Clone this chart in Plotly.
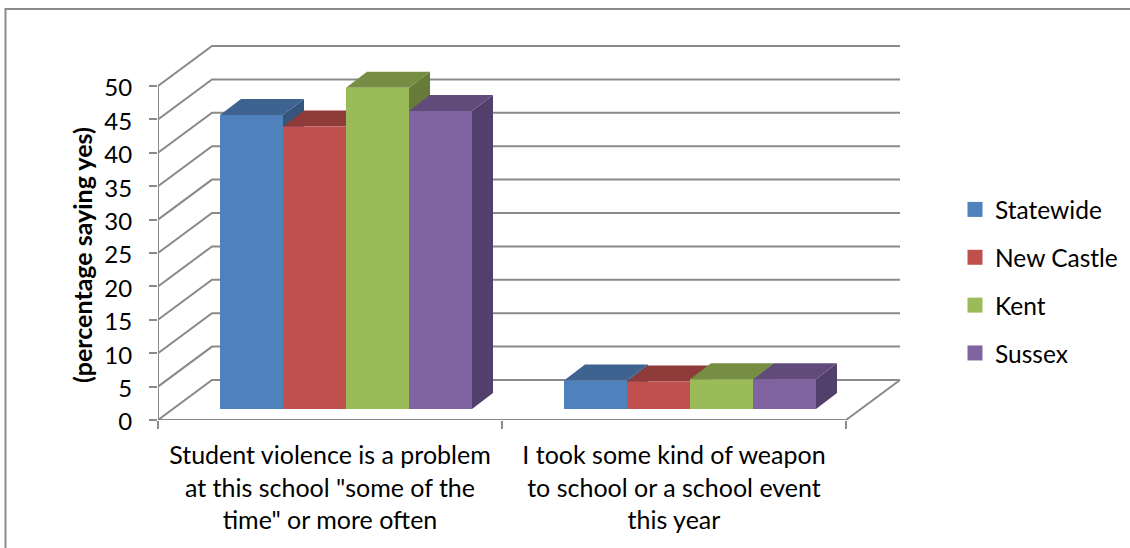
import plotly.graph_objects as go

# ---- data ----
categories = [
    'Student violence is a problem<br>at this school "some of the<br>time" or more often',
    "I took some kind of weapon<br>to school or a school event<br>this year",
]
series_names = ["Statewide", "New Castle", "Kent", "Sussex"]
statewide = [44.0, 4.25]
new_castle = [42.3, 4.1]
kent = [48.1, 4.45]
sussex = [44.6, 4.45]
y_ticks = [0, 5, 10, 15, 20, 25, 30, 35, 40, 45, 50]
y_title = "(percentage saying yes)"

series_values = [statewide, new_castle, kent, sussex]
front_colors = ["#4F81BD", "#C0504D", "#9BBB59", "#8064A2"]
top_colors = ["#3E6390", "#8F3B39", "#758E43", "#604B7B"]
side_colors = ["#34557C", "#7C3331", "#667B3A", "#533F6B"]

GRID = "#8A8A8A"
TEXT = "#000000"
FONT = "Lato"
W, H = 1130, 548
X0_PX, Y0_PX = 158, 420      # pixel of the axes origin
CAT_PX, UNIT_PX = 344, 6.68  # pixels per category, pixels per y unit

# depth projection, in data units
wall_dx, wall_dy = 54 / CAT_PX, 40 / UNIT_PX
bar_dx, bar_dy = 21 / CAT_PX, 16 / UNIT_PX
front_dx, front_dy = 16 / CAT_PX, 11 / UNIT_PX
bar_w = 63 / CAT_PX

fig = go.Figure()

# floor and walls
gx, gy = [], []
for v in y_ticks:
    gx += [0, wall_dx, 2 + wall_dx, None]
    gy += [v, v + wall_dy, v + wall_dy, None]
gx += [2, 2 + wall_dx, None, 0, 2, None, 0, 0]
gy += [0, wall_dy, None, 0, 0, None, 0, 50]
fig.add_trace(go.Scatter(x=gx, y=gy, mode="lines", line=dict(color=GRID, width=2),
                         showlegend=False, hoverinfo="skip", cliponaxis=False))


def poly(points):
    xs, ys = [], []
    for p in points:
        xs += [c[0] for c in p] + [p[0][0], None]
        ys += [c[1] for c in p] + [p[0][1], None]
    return xs, ys


for j, (name, vals) in enumerate(zip(series_names, series_values)):
    fronts, tops, sides = [], [], []
    for i, v in enumerate(vals):
        xl = i + 0.5 + front_dx + (j - 2) * bar_w
        xr = xl + bar_w
        yb = front_dy
        yt = front_dy + v
        fronts.append([(xl, yb), (xr, yb), (xr, yt), (xl, yt)])
        tops.append([(xl, yt), (xr, yt), (xr + bar_dx, yt + bar_dy), (xl + bar_dx, yt + bar_dy)])
        sides.append([(xr, yb), (xr + bar_dx, yb + bar_dy), (xr + bar_dx, yt + bar_dy), (xr, yt)])
    for faces, col in ((sides, side_colors[j]), (tops, top_colors[j]), (fronts, front_colors[j])):
        xs, ys = poly(faces)
        fig.add_trace(go.Scatter(x=xs, y=ys, mode="none", fill="toself", fillcolor=col,
                                 showlegend=False, hoverinfo="skip", cliponaxis=False, name=name))

# legend entries
for j, name in enumerate(series_names):
    fig.add_trace(go.Scatter(x=[None], y=[None], mode="markers", name=name, legendgroup=name,
                             marker=dict(symbol="square", size=15, color=front_colors[j])))

border = f"M {5.5 / W} 0 L {5.5 / W} {1 - 9 / H} L 1 {1 - 9 / H}"

fig.update_layout(
    width=W, height=H, margin=dict(l=0, r=0, t=0, b=0, pad=0, autoexpand=False),
    paper_bgcolor="white", plot_bgcolor="rgba(0,0,0,0)",
    font=dict(family=FONT, size=24, color=TEXT),
    xaxis=dict(domain=[X0_PX / W, 1], range=[0, (W - X0_PX) / CAT_PX], showgrid=False, zeroline=False,
               showline=False, tickmode="array", tickvals=[0.5, 1.5], ticktext=categories,
               ticks="", ticklabelstandoff=18, automargin=False,
               minor=dict(tickmode="array", tickvals=[0, 1, 2], ticks="outside", ticklen=8,
                          tickwidth=2, tickcolor=GRID),
               tickfont=dict(family=FONT, size=25, color=TEXT)),
    yaxis=dict(domain=[(H - Y0_PX) / H, 1], range=[0, Y0_PX / UNIT_PX], showgrid=False, zeroline=False,
               showline=False, tickmode="array", tickvals=y_ticks, ticks="outside", ticklen=8,
               tickwidth=2, tickcolor=GRID, ticklabelstandoff=12, ticklabelshift=2, automargin=False,
               tickfont=dict(family=FONT, size=24, color=TEXT)),
    legend=dict(x=955 / W, xanchor="left", y=1 - 187 / H, yanchor="top", tracegroupgap=13,
                font=dict(family=FONT, size=24.5, color=TEXT), bgcolor="rgba(0,0,0,0)"),
    shapes=[dict(type="path", path=border, xref="paper", yref="paper",
                 line=dict(color="#8C8C8C", width=2))],
    annotations=[dict(text=f"<b>{y_title}</b>", xref="paper", yref="paper", x=82 / W, y=1 - 255 / H,
                      textangle=-90, showarrow=False, xanchor="center", yanchor="middle",
                      font=dict(family=FONT, size=25, color=TEXT))],
)

fig.write_html("out.html", post_script="document.body.style.margin='0';",
               config=dict(displayModeBar=False))
